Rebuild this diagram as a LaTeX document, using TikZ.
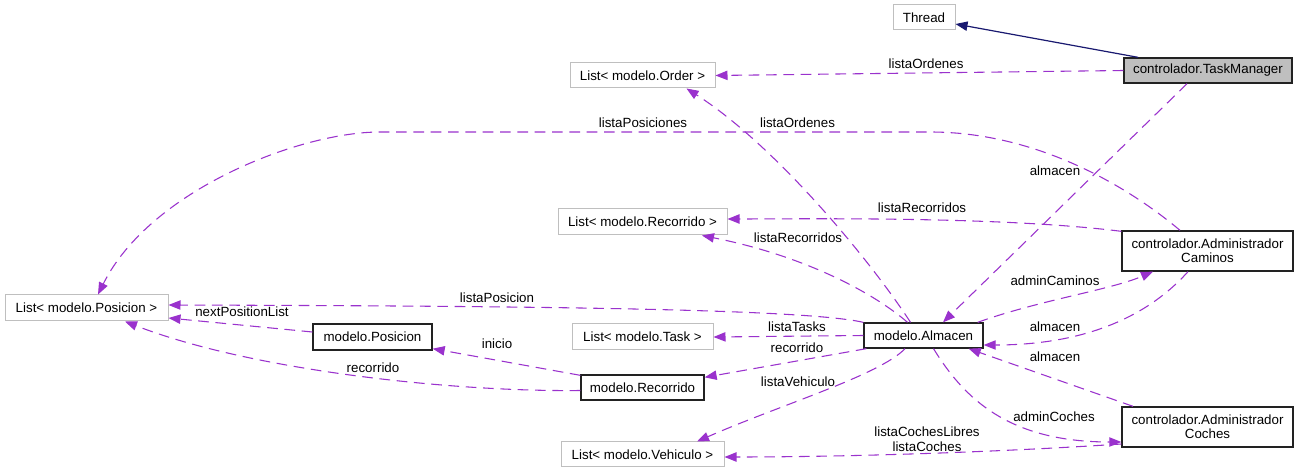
\documentclass[tikz,border=0pt]{standalone}
\usepackage{fontspec}
\setmainfont{Liberation Sans}
\usetikzlibrary{arrows.meta,calc}
\definecolor{depc}{HTML}{9A32CD}
\definecolor{inhc}{HTML}{191970}
\definecolor{boxgray}{HTML}{BFBFBF}
\definecolor{clsborder}{HTML}{222222}
\begin{document}
\begin{tikzpicture}[x=0.75pt,y=-0.75pt,
 every node/.style={font=\fontsize{10}{10.5}\selectfont},
 base/.style={rectangle, inner sep=0pt, line width=0.75pt, align=center},
 ext/.style={base, draw=boxgray, fill=white},
 cls/.style={base, draw=clsborder, line width=1pt, fill=white},
 cur/.style={base, draw=clsborder, line width=1pt, fill=boxgray},
 lbl/.style={inner sep=0pt, align=center, font=\fontsize{10}{11}\selectfont},
 dep/.style={draw=depc, line width=0.8pt, dash pattern=on 8pt off 5pt, -{Triangle[length=9pt,width=7pt]}},
 inhe/.style={draw=inhc, line width=0.9pt, -{Triangle[length=9pt,width=7pt]}}]
\useasboundingbox[fill=white] (0,0) rectangle (1299,473);

% nodes
\node[ext, minimum width=46.5pt, minimum height=18.75pt] (thread) at (924,17.5) {Thread};
\node[cur, minimum width=126pt, minimum height=18.75pt] (tm) at (1208,70.5) {controlador.TaskManager};
\node[ext, minimum width=108.75pt, minimum height=18.75pt] (order) at (642.5,75.5) {List< modelo.Order >};
\node[ext, minimum width=126.75pt, minimum height=19.5pt] (lrec) at (642.5,222) {List< modelo.Recorrido >};
\node[cls, minimum width=128.25pt, minimum height=30pt] (ac) at (1207.5,251) {controlador.Administrador\\Caminos};
\node[ext, minimum width=122.25pt, minimum height=19.5pt] (lpos) at (86.5,308) {List< modelo.Posicion >};
\node[cls, minimum width=89.25pt, minimum height=19.5pt] (pos) at (372.5,337) {modelo.Posicion};
\node[ext, minimum width=105.75pt, minimum height=19.5pt] (ltask) at (642.5,337) {List< modelo.Task >};
\node[cls, minimum width=89.25pt, minimum height=18.75pt] (alm) at (923.5,335.5) {modelo.Almacen};
\node[cls, minimum width=92.25pt, minimum height=18.75pt] (rec) at (642.5,387.5) {modelo.Recorrido};
\node[cls, minimum width=128.25pt, minimum height=30pt] (aco) at (1207.5,427) {controlador.Administrador\\Coches};
\node[ext, minimum width=122.25pt, minimum height=18.75pt] (lveh) at (642.5,454.5) {List< modelo.Vehiculo >};

% connectors
\draw[inhe] ($(tm.north)+(-70,0)$) -- ($(thread.east)+(0,6.5)$);
\draw[dep] (tm.west) -- (order.east);
\draw[dep] ($(tm.south)+(-21,0)$) -- ($(alm.north)+(19.5,0)$);
\draw[dep] ($(ac.north)+(-27.5,0)$) .. controls (1120,180) and (1030,132) .. (930,132)
   -- (380,132) .. controls (300,132) and (150,190) .. ($(lpos.north)+(11.5,0)$);
\draw[dep] ($(alm.north)+(-13,0)$) .. controls (870,260) and (775,145) .. ($(order.south)+(44,0)$);
\draw[dep] ($(ac.north west)+(0,1)$) .. controls (1000,216) and (800,219) .. ($(lrec.east)+(0,-3)$);
\draw[dep] ($(alm.north)+(-16,0)$) .. controls (870,290) and (800,255) .. ($(lrec.south)+(59.5,0)$);
\draw[dep] (alm.north west) .. controls (800,308) and (500,306) .. ($(lpos.east)+(0,-3)$);
\draw[dep] ($(pos.west)+(0,-5)$) -- ($(lpos.east)+(0,10)$);
\draw[dep] ($(rec.north west)+(0,1)$) -- ($(pos.south east)+(0,-2)$);
\draw[dep] ($(rec.west)+(0,3)$) .. controls (450,392) and (250,370) .. ($(lpos.south)+(38.5,0)$);
\draw[dep] (alm.west) -- (ltask.east);
\draw[dep] ($(alm.south west)+(3,0)$) -- ($(rec.north east)+(0,3)$);
\draw[dep] ($(alm.south)+(-18.5,0)$) .. controls (880,375) and (780,405) .. ($(lveh.north)+(54.5,0)$);
\draw[dep] ($(alm.north east)+(-6,0)$) .. controls (1040,300) and (1110,290) .. ($(ac.south)+(-54.5,0)$);
\draw[dep] ($(ac.south)+(-19.5,0)$) .. controls (1140,325) and (1070,345) .. ($(alm.east)+(0,9.5)$);
\draw[dep] ($(aco.north)+(-74.5,0)$) -- ($(alm.south east)+(-15,0)$);
\draw[dep] ($(alm.south)+(10,0)$) .. controls (965,400) and (1010,442) .. ($(aco.west)+(0,15)$);
\draw[dep] ($(aco.west)+(0,17)$) .. controls (1000,452) and (850,457) .. ($(lveh.east)+(0,2.5)$);

% labels
\node[lbl] (l1) at (926,64) {listaOrdenes};
\node[lbl] (l2) at (1055,171) {almacen};
\node[lbl] (l3) at (643,123) {listaPosiciones};
\node[lbl] (l4) at (797.5,123) {listaOrdenes};
\node[lbl] (l5) at (922,208) {listaRecorridos};
\node[lbl] (l6) at (798,238) {listaRecorridos};
\node[lbl] (l7) at (497,298) {listaPosicion};
\node[lbl] (l8) at (242,312) {nextPositionList};
\node[lbl] (l9) at (497,344) {inicio};
\node[lbl] (l10) at (373,368) {recorrido};
\node[lbl] (l11) at (797,327) {listaTasks};
\node[lbl] (l12) at (797,348) {recorrido};
\node[lbl] (l13) at (798,382) {listaVehiculo};
\node[lbl] (l14) at (927,439) {listaCochesLibres\\listaCoches};
\node[lbl] (l15) at (1055,281) {adminCaminos};
\node[lbl] (l16) at (1055,327) {almacen};
\node[lbl] (l17) at (1055,357) {almacen};
\node[lbl] (l18) at (1054,417) {adminCoches};
\end{tikzpicture}
\end{document}
